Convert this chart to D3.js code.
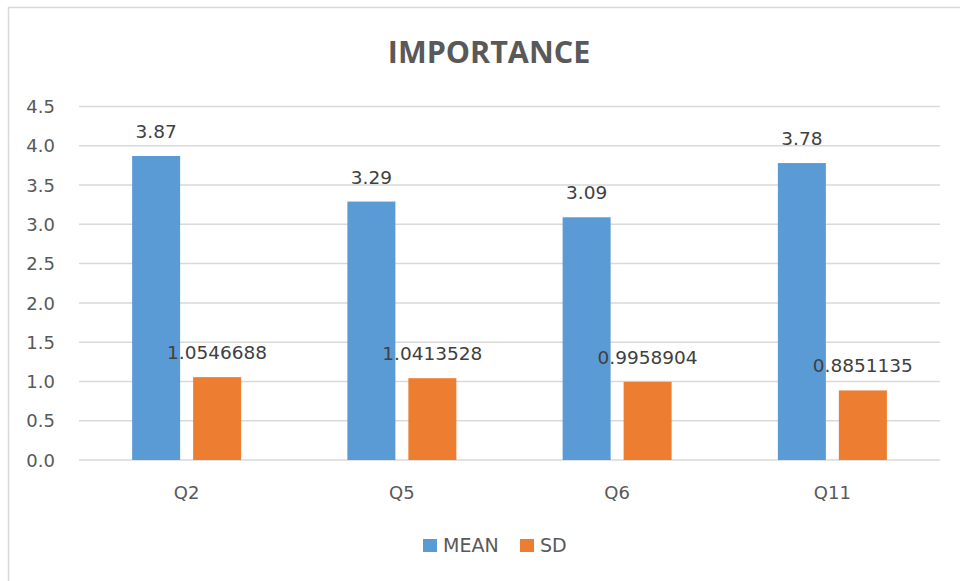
<!DOCTYPE html>
<html>
<head>
<meta charset="utf-8">
<script src="https://cdn.jsdelivr.net/npm/d3@7"></script>
<style>
  body { margin: 0; background: #fff; }
  text { font-family: "DejaVu Sans", sans-serif; fill: #595959; }
</style>
</head>
<body>
<svg id="chart" width="960" height="581"></svg>
<script>
const categories = ["Q2", "Q5", "Q6", "Q11"];
const seriesNames = ["MEAN", "SD"];
const meanValues = [3.87, 3.29, 3.09, 3.78];
const sdValues = [1.0546688, 1.0413528, 0.9958904, 0.8851135];
const meanLabels = ["3.87", "3.29", "3.09", "3.78"];
const sdLabels = ["1.0546688", "1.0413528", "0.9958904", "0.8851135"];
const yTicks = [0, 0.5, 1, 1.5, 2, 2.5, 3, 3.5, 4, 4.5];
const colors = ["#5B9BD5", "#ED7D31"];

const svg = d3.select("#chart");

// chart border
svg.append("rect")
  .attr("x", 8.5).attr("y", 7.5)
  .attr("width", 960).attr("height", 620)
  .attr("fill", "none")
  .attr("stroke", "#d9d9d9")
  .attr("stroke-width", 1.5);

const plot = { left: 79, right: 940, top: 106.5, bottom: 460 };

const y = d3.scaleLinear().domain([0, 4.5]).range([plot.bottom, plot.top]);
const x = d3.scaleBand()
  .domain(categories)
  .range([plot.left, plot.right])
  .paddingInner(0.4936)
  .paddingOuter(0.2468);
const xs = d3.scaleBand()
  .domain(seriesNames)
  .range([0, x.bandwidth()])
  .paddingInner(0.213);

// gridlines
svg.append("g")
  .selectAll("line")
  .data(yTicks)
  .join("line")
  .attr("x1", plot.left).attr("x2", plot.right)
  .attr("y1", d => y(d)).attr("y2", d => y(d))
  .attr("stroke", "#d9d9d9")
  .attr("stroke-width", 1.5);

// y tick labels
svg.append("g")
  .selectAll("text")
  .data(yTicks)
  .join("text")
  .attr("x", 55)
  .attr("y", d => y(d))
  .attr("dy", "0.37em")
  .attr("text-anchor", "end")
  .style("font-size", "18px")
  .text(d => d3.format(".1f")(d));

// x labels
svg.append("g")
  .selectAll("text")
  .data(categories)
  .join("text")
  .attr("x", d => x(d) + x.bandwidth() / 2)
  .attr("y", 499)
  .attr("text-anchor", "middle")
  .style("font-size", "18px")
  .text(d => d);

const rows = categories.map((c, i) => ({
  cat: c,
  vals: [
    { s: "MEAN", v: meanValues[i], label: meanLabels[i] },
    { s: "SD", v: sdValues[i], label: sdLabels[i] }
  ]
}));

const groups = svg.append("g")
  .selectAll("g")
  .data(rows)
  .join("g")
  .attr("transform", d => `translate(${x(d.cat)},0)`);

groups.selectAll("rect")
  .data(d => d.vals)
  .join("rect")
  .attr("x", d => xs(d.s))
  .attr("width", xs.bandwidth())
  .attr("y", d => y(d.v))
  .attr("height", d => y(0) - y(d.v))
  .attr("fill", (d, i) => colors[i]);

groups.selectAll("text")
  .data(d => d.vals)
  .join("text")
  .attr("x", d => xs(d.s) + xs.bandwidth() / 2)
  .attr("y", d => y(d.v) - 18)
  .attr("text-anchor", "middle")
  .style("font-size", "18.5px")
  .style("fill", "#404040")
  .text(d => d.label);

// title
svg.append("text")
  .attr("x", 489)
  .attr("y", 62.5)
  .attr("text-anchor", "middle")
  .style("font-family", "'Open Sans', sans-serif")
  .style("font-weight", "bold")
  .style("font-size", "30.5px")
  .text("IMPORTANCE");

// legend
const legendX = [423, 520];
const legend = svg.append("g")
  .selectAll("g")
  .data(seriesNames)
  .join("g")
  .attr("transform", (d, i) => `translate(${legendX[i]},539)`);
legend.append("rect")
  .attr("width", 14).attr("height", 13)
  .attr("fill", (d, i) => colors[i]);
legend.append("text")
  .attr("x", 20)
  .attr("y", 13)
  .style("font-size", "19px")
  .text(d => d);
</script>
</body>
</html>
